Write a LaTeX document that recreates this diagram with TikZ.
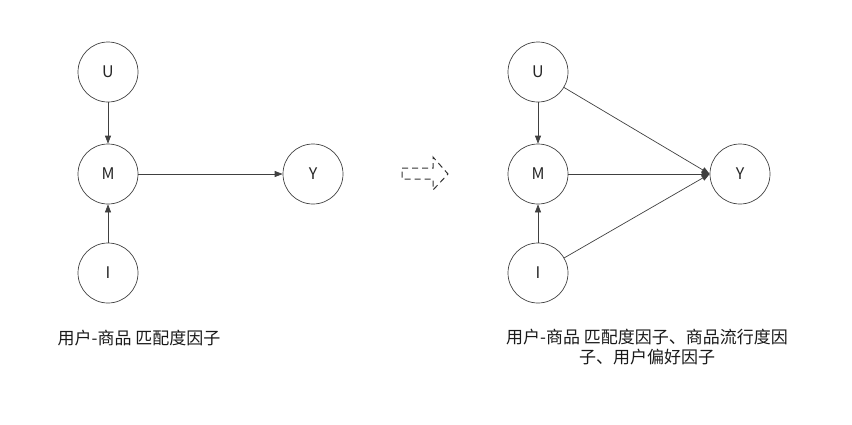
\documentclass[tikz,border=0pt]{standalone}
\usepackage{fontspec}
\setmainfont{Noto Sans CJK SC}
\setsansfont{Noto Sans CJK SC}
\usetikzlibrary{arrows.meta}
\begin{document}
\begin{tikzpicture}[x=1pt,y=-1pt,
  var/.style={circle,draw=black!75,line width=0.7pt,minimum size=60pt,inner sep=0pt,font=\fontsize{16}{18}\selectfont,text=black!85},
  edge/.style={draw=black!75,line width=0.7pt,-{Triangle[length=8pt,width=6pt]}},
  lbl/.style={font=\fontsize{17}{20}\selectfont,text=black!90,align=center}]
\useasboundingbox (0,0) rectangle (852,424);
% left graph
\node[var] (U1) at (108,72) {U};
\node[var] (M1) at (108,174) {M};
\node[var] (I1) at (108,273) {I};
\node[var] (Y1) at (313,174) {Y};
\draw[edge] (U1) -- (M1);
\draw[edge] (I1) -- (M1);
\draw[edge] (M1) -- (Y1);
% right graph
\node[var] (U2) at (538,72) {U};
\node[var] (M2) at (538,174) {M};
\node[var] (I2) at (538,273) {I};
\node[var] (Y2) at (740,174) {Y};
\draw[edge] (U2) -- (M2);
\draw[edge] (I2) -- (M2);
\draw[edge] (M2) -- (Y2.west);
\draw[edge] (U2) -- (Y2.west);
\draw[edge] (I2) -- (Y2.west);
% dashed block arrow
\draw[black!80,line width=1pt,dash pattern=on 6pt off 4pt]
  (402,168) -- (433,168) -- (433,157) -- (448,174) -- (433,190) -- (433,179) -- (402,179) -- cycle;
% labels
\node[lbl] (L1) at (139,338) {用户-商品 匹配度因子};
\node[lbl] (L2) at (647,347) {用户-商品 匹配度因子、商品流行度因\\子、用户偏好因子};
\end{tikzpicture}
\end{document}
